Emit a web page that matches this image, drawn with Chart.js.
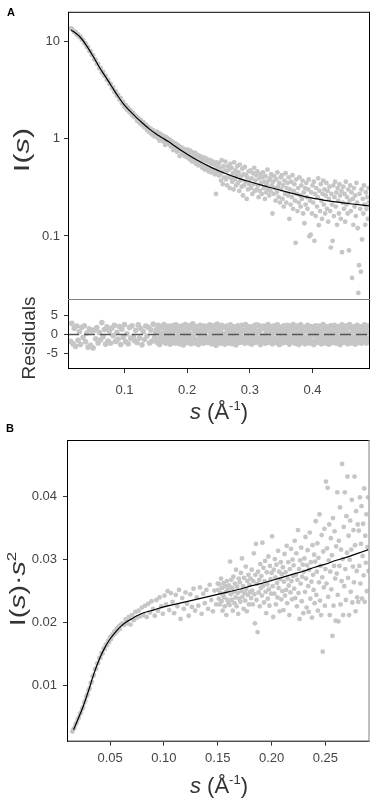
<!DOCTYPE html>
<html>
<head>
<meta charset="utf-8">
<script src="https://cdn.jsdelivr.net/npm/chart.js@4.4.1/dist/chart.umd.min.js"></script>
<style>
body { margin: 0; background: #fff; }
#wrap { position: relative; width: 373px; height: 801px; }
canvas { position: absolute; left: 0; top: 0; }
</style>
</head>
<body>
<div id="wrap">
<canvas id="cA" width="373" height="801" style="width:373px;height:801px"></canvas>
<canvas id="cR" width="373" height="801" style="width:373px;height:801px"></canvas>
<canvas id="cB" width="373" height="801" style="width:373px;height:801px"></canvas>
</div>
<script>
// ---- panel A : I(s) data (log scale) + fit, residuals share the same s ----
const sA = [
  0.014,0.016,0.018,0.020,0.022,0.024,0.026,0.028,0.030,0.032,0.034,0.036,0.038,0.040,0.042,0.044,0.046,0.048,0.050,0.052,
  0.054,0.056,0.058,0.060,0.062,0.064,0.066,0.068,0.070,0.072,0.074,0.076,0.078,0.080,0.082,0.084,0.086,0.088,0.090,0.092,
  0.094,0.096,0.098,0.100,0.102,0.104,0.106,0.108,0.110,0.112,0.114,0.116,0.118,0.120,0.122,0.124,0.126,0.128,0.130,0.132,
  0.134,0.136,0.138,0.140,0.142,0.144,0.146,0.148,0.150,
  0.151,0.152,0.153,0.154,0.155,0.156,0.157,0.158,0.159,0.160,
  0.161,0.162,0.163,0.164,0.165,0.166,0.167,0.168,0.169,0.170,
  0.171,0.172,0.173,0.174,0.175,0.176,0.177,0.178,0.179,0.180,
  0.181,0.182,0.183,0.184,0.185,0.186,0.187,0.188,0.189,0.190,
  0.191,0.192,0.193,0.194,0.195,0.196,0.197,0.198,0.199,0.200,
  0.201,0.202,0.203,0.204,0.205,0.206,0.207,0.208,0.209,0.210,
  0.211,0.212,0.213,0.214,0.215,0.216,0.217,0.218,0.219,0.220,
  0.221,0.222,0.223,0.224,0.225,0.226,0.227,0.228,0.229,0.230,
  0.231,0.232,0.233,0.234,0.235,0.236,0.237,0.238,0.239,0.240,
  0.241,0.242,0.243,0.244,0.245,0.246,0.247,0.248,0.249,0.250,
  0.251,0.252,0.253,0.254,0.255,0.256,0.257,0.258,0.259,0.260,
  0.261,0.262,0.263,0.264,0.265,0.266,0.267,0.268,0.269,0.270,
  0.271,0.272,0.273,0.274,0.275,0.276,0.277,0.278,0.279,0.280,
  0.281,0.282,0.283,0.284,0.285,0.286,0.287,0.288,0.289,0.290,
  0.291,0.292,0.293,0.294,0.295,0.296,0.297,0.298,0.299,0.300,
  0.301,0.302,0.303,0.304,0.305,0.306,0.307,0.308,0.309,0.310,
  0.311,0.312,0.313,0.314,0.315,0.316,0.317,0.318,0.319,0.320,
  0.321,0.322,0.323,0.324,0.325,0.326,0.327,0.328,0.329,0.330,
  0.331,0.332,0.333,0.334,0.335,0.336,0.337,0.338,0.339,0.340,
  0.341,0.342,0.343,0.344,0.345,0.346,0.347,0.348,0.349,0.350,
  0.351,0.352,0.353,0.354,0.355,0.356,0.357,0.358,0.359,0.360,
  0.361,0.362,0.363,0.364,0.365,0.366,0.367,0.368,0.369,0.370,
  0.371,0.372,0.373,0.374,0.375,0.376,0.377,0.378,0.379,0.380,
  0.381,0.382,0.383,0.384,0.385,0.386,0.387,0.388,0.389,0.390,
  0.391,0.392,0.393,0.394,0.395,0.396,0.397,0.398,0.399,0.400,
  0.401,0.402,0.403,0.404,0.405,0.406,0.407,0.408,0.409,0.410,
  0.411,0.412,0.413,0.414,0.415,0.416,0.417,0.418,0.419,0.420,
  0.421,0.422,0.423,0.424,0.425,0.426,0.427,0.428,0.429,0.430,
  0.431,0.432,0.433,0.434,0.435,0.436,0.437,0.438,0.439,0.440,
  0.441,0.442,0.443,0.444,0.445,0.446,0.447,0.448,0.449,0.450,
  0.451,0.452,0.453,0.454,0.455,0.456,0.457,0.458,0.459,0.460,
  0.461,0.462,0.463,0.464,0.465,0.466,0.467,0.468,0.469,0.470,
  0.471,0.472,0.473,0.474,0.475,0.476,0.477,0.478,0.479,0.480,
  0.481,0.482,0.483,0.484,0.485,0.486,0.487,0.488,0.489,0.490
];
const iA = [
  13.5,13.4,12.9,12.3,12.4,11.6,11.7,11.0,11.1,10.3,10.3,9.5,9.5,8.7,8.7,7.9,7.9,7.2,7.15,6.5,
  6.45,5.85,5.85,5.25,5.3,4.75,4.85,4.4,4.4,4.0,4.0,3.65,3.65,3.3,3.35,3.0,3.05,2.75,2.8,2.52,
  2.6,2.3,2.38,2.12,2.2,1.98,2.08,1.86,1.95,1.74,1.83,1.65,1.72,1.52,1.63,1.45,1.55,1.37,1.47,1.30,
  1.39,1.22,1.32,1.16,1.26,1.10,1.21,1.05,1.15,
  1.10,1.18,1.01,1.13,1.05,0.95,1.12,1.02,1.08,0.97,
  1.07,0.93,1.05,0.98,0.86,1.04,0.94,1.01,0.89,0.99,
  0.98,0.87,0.96,0.83,0.94,0.87,0.92,0.76,0.89,0.82,
  0.89,0.79,0.87,0.73,0.85,0.78,0.84,0.66,0.81,0.74,
  0.81,0.72,0.79,0.69,0.78,0.66,0.77,0.70,0.75,0.64,
  0.77,0.65,0.73,0.61,0.75,0.67,0.71,0.58,0.72,0.62,
  0.69,0.60,0.71,0.55,0.66,0.58,0.68,0.53,0.64,0.57,
  0.66,0.55,0.63,0.50,0.61,0.53,0.64,0.48,0.59,0.52,
  0.62,0.50,0.59,0.46,0.57,0.49,0.60,0.45,0.55,0.48,
  0.58,0.46,0.55,0.43,0.53,0.27,0.57,0.45,0.51,0.42,
  0.56,0.42,0.50,0.37,0.60,0.45,0.34,0.52,0.40,0.47,
  0.58,0.38,0.46,0.33,0.52,0.41,0.48,0.31,0.55,0.39,
  0.50,0.36,0.44,0.30,0.57,0.38,0.47,0.33,0.42,0.52,
  0.35,0.45,0.29,0.54,0.37,0.41,0.32,0.49,0.26,0.43,
  0.33,0.51,0.36,0.42,0.24,0.40,0.30,0.46,0.34,0.38,
  0.47,0.31,0.39,0.27,0.44,0.34,0.50,0.29,0.37,0.42,
  0.30,0.46,0.33,0.25,0.39,0.29,0.43,0.35,0.27,0.40,
  0.45,0.31,0.36,0.24,0.41,0.28,0.34,0.48,0.30,0.37,
  0.26,0.39,0.29,0.43,0.33,0.17,0.36,0.27,0.41,0.31,
  0.23,0.38,0.28,0.45,0.32,0.25,0.35,0.22,0.40,0.30,
  0.42,0.24,0.33,0.20,0.37,0.27,0.44,0.22,0.31,0.35,
  0.26,0.40,0.15,0.30,0.21,0.36,0.25,0.42,0.19,0.29,
  0.34,0.23,0.085,0.38,0.27,0.18,0.31,0.22,0.40,0.26,
  0.20,0.33,0.24,0.37,0.17,0.28,0.135,0.31,0.21,0.35,
  0.25,0.19,0.30,0.38,0.099,0.23,0.103,0.28,0.17,0.33,
  0.22,0.36,0.089,0.27,0.16,0.31,0.20,0.25,0.39,0.129,
  0.29,0.18,0.34,0.23,0.15,0.27,0.37,0.21,0.30,0.17,
  0.26,0.35,0.19,0.29,0.14,0.24,0.32,0.18,0.076,0.27,
  0.21,0.089,0.33,0.16,0.25,0.36,0.20,0.28,0.13,0.31,
  0.23,0.17,0.34,0.26,0.15,0.29,0.068,0.22,0.32,0.19,
  0.27,0.14,0.36,0.21,0.25,0.17,0.30,0.071,0.23,0.33,
  0.18,0.28,0.037,0.24,0.13,0.31,0.20,0.26,0.16,0.35,
  0.22,0.12,0.026,0.050,0.27,0.19,0.043,0.30,0.092,0.24,
  0.17,0.33,0.21,0.13,0.28,0.19,0.25,0.15,0.31,0.22
];
const resA = [
  -1.8,2.9,-2.4,1.6,-3.1,2.2,-1.5,0.7,-2.6,1.9,-0.8,
  2.3,-1.9,0.4,-3.3,1.5,-2.8,0.9,-3.5,1.2,-1.1,
  1.8,-2.2,0.5,-1.4,3.1,-0.6,1.3,-2.5,2.0,-1.7,
  0.9,-2.3,1.7,-0.3,2.4,-1.8,0.6,-1.2,2.1,-2.6,
  1.4,-0.7,2.6,-1.9,0.2,-2.4,1.8,-1.0,2.3,-0.5,
  -1.6,1.1,-2.1,2.5,-0.9,1.6,-2.7,0.8,-1.3,2.2,
  -0.4,1.9,-2.2,1.2,-1.7,2.7,-0.8,0.5,
  1.3,-2.0,0.6,2.4,-1.1,-2.6,1.7,-0.2,2.1,-1.5,
  0.4,-1.8,2.6,-0.7,1.2,-2.3,1.9,-1.2,0.1,2.2,
  -1.4,0.9,-2.5,1.6,-0.3,2.3,-1.9,0.7,-1.0,1.8,
  -2.2,2.5,-0.6,1.1,-1.7,0.3,2.0,-2.4,1.4,-0.9,
  2.2,-1.3,0.5,-2.7,1.8,-0.4,2.6,-1.6,0.8,-2.1,
  1.5,-0.8,2.3,-1.9,0.2,-2.4,1.7,-1.1,2.8,-0.5,
  -1.7,1.2,-2.2,0.6,2.1,-1.4,0.9,-2.6,1.6,-0.3,
  2.4,-1.9,0.7,-1.0,1.9,-2.3,0.4,2.2,-1.5,1.0,
  -0.6,2.0,-2.1,1.3,-0.9,2.5,-1.6,0.3,-2.4,1.7,
  -1.2,2.3,-0.5,1.1,-2.0,-2.8,0.8,2.7,-1.4,2.1,
  -0.7,1.6,-2.3,0.5,2.4,-1.1,1.9,-1.8,0.2,-2.5,
  1.8,-0.4,2.2,-1.6,0.9,-2.2,1.4,-0.8,2.5,-1.3,
  0.6,-2.4,1.7,-0.2,2.0,-1.5,0.8,-2.7,1.2,-0.9,
  2.3,-1.2,0.4,-2.0,1.6,-0.6,2.4,-1.8,0.7,-1.4,
  1.1,-2.3,2.6,-0.5,1.4,-1.7,0.2,2.1,-2.2,0.9,
  -1.0,1.8,-2.5,0.7,-0.3,2.2,-1.4,1.3,-2.0,2.5,
  -0.8,0.5,-1.9,2.4,-1.2,1.0,-2.6,1.7,-0.4,2.0,
  -1.6,2.2,-0.7,1.4,-2.3,0.3,1.9,-1.1,2.6,-2.0,
  0.8,-1.5,2.1,-0.2,1.3,-2.4,0.6,-1.7,2.3,-0.9,
  1.7,-2.1,0.4,2.5,-1.3,1.0,-2.6,0.7,-0.5,1.9,
  -2.2,1.2,-0.9,2.3,-1.6,0.5,-2.0,1.8,-0.3,2.4,
  -1.1,0.9,-2.5,1.5,-0.6,2.1,-1.8,0.2,2.6,-1.4,
  1.0,-2.3,1.7,-0.8,2.2,-1.2,0.6,-2.6,1.4,-0.4,
  2.5,-1.7,0.3,-2.1,1.9,-0.7,1.2,-2.4,0.8,2.0,
  -1.3,2.4,-0.5,1.6,-2.2,0.9,-1.0,2.1,-1.9,0.4,
  1.8,-2.6,1.1,-0.2,2.3,-1.5,0.7,-2.0,1.5,-0.8,
  2.2,-1.1,0.5,-2.4,1.3,-0.6,2.6,-1.8,0.1,-2.2,
  1.6,-0.9,2.0,-1.6,0.8,-2.5,1.4,-0.3,2.3,-1.2,
  0.6,-2.1,1.9,-0.7,2.4,-1.4,0.3,-2.3,1.1,-0.5,
  2.1,-1.8,0.9,-2.6,1.5,-0.4,2.5,-1.2,0.7,-2.0,
  1.3,-0.6,2.2,-1.9,0.4,-2.4,1.7,-1.0,2.6,-1.5,
  0.2,-2.2,1.6,-0.8,2.0,-1.3,0.9,-2.5,1.2,-0.3,
  2.4,-1.6,0.6,-2.1,1.8,-0.5,1.1,-2.3,2.1,-1.1,
  0.8,-1.9,2.5,-0.7,1.4,-2.2,0.5,-1.4,2.2,-0.9
];
const sFitA = [0.015,0.02,0.03,0.04,0.05,0.06,0.07,0.08,0.09,0.10,0.11,0.12,0.13,0.14,0.15,0.16,0.17,0.18,
  0.19,0.20,0.22,0.24,0.26,0.28,0.30,0.32,0.34,0.36,0.38,0.40,0.42,0.44,0.46,0.48,0.49];
const iFitA = [13.0,12.4,10.9,8.9,7.0,5.4,4.3,3.4,2.7,2.2,1.88,1.62,1.42,1.25,1.12,1.02,0.93,0.84,
  0.76,0.69,0.58,0.50,0.44,0.395,0.36,0.33,0.305,0.282,0.261,0.244,0.232,0.222,0.214,0.207,0.204];
const ticksAY = [0.1, 1, 10];
const ticksRY = [-5, 0, 5];
const ticksAX = [0.1, 0.2, 0.3, 0.4];

// ---- panel B : Kratky plot I(s)*s^2 ----
const sB = [
  0.015,0.016,0.017,0.018,0.019,0.020,0.021,0.022,0.023,0.024,0.025,0.026,0.027,0.028,0.029,0.030,
  0.031,0.032,0.033,0.034,0.035,0.036,0.037,0.038,0.039,0.040,0.041,0.042,0.043,0.044,0.045,
  0.046,0.047,0.048,0.049,0.050,0.051,0.052,0.053,0.054,0.055,0.056,0.057,0.058,0.059,0.060,
  0.0615,0.0630,0.0645,0.0660,0.0675,0.0690,0.0705,0.0720,0.0735,0.0750,
  0.0765,0.0780,0.0795,0.0810,0.0825,0.0840,0.0855,0.0870,0.0885,0.0900,
  0.0915,0.0930,0.0945,0.0960,0.0975,0.0990,0.1005,0.1020,0.1035,0.1050,
  0.1065,0.1080,0.1095,0.1110,0.1125,0.1140,0.1155,0.1170,0.1185,0.1200,
  0.1215,0.1230,0.1245,0.1260,0.1275,0.1290,0.1305,0.1320,0.1335,0.1350,
  0.1365,0.1380,0.1395,0.1410,0.1425,0.1440,0.1455,0.1470,0.1485,0.1500,
  0.1505,0.151,0.1515,0.152,0.1525,0.153,0.1535,0.154,0.1545,0.155,0.1555,0.156,0.1565,0.157,0.1575,0.158,0.1585,0.159,0.1595,0.160,
  0.1605,0.161,0.1615,0.162,0.1625,0.163,0.1635,0.164,0.1645,0.165,0.1655,0.166,0.1665,0.167,0.1675,0.168,0.1685,0.169,0.1695,0.170,
  0.1705,0.171,0.1715,0.172,0.1725,0.173,0.1735,0.174,0.1745,0.175,0.1755,0.176,0.1765,0.177,0.1775,0.178,0.1785,0.179,0.1795,0.180,
  0.1805,0.181,0.1815,0.182,0.1825,0.183,0.1835,0.184,0.1845,0.185,0.1855,0.186,0.1865,0.187,0.1875,0.188,0.1885,0.189,0.1895,0.190,
  0.1905,0.191,0.1915,0.192,0.1925,0.193,0.1935,0.194,0.1945,0.195,0.1955,0.196,0.1965,0.197,0.1975,0.198,0.1985,0.199,0.1995,0.200,
  0.2005,0.201,0.2015,0.202,0.2025,0.203,0.2035,0.204,0.2045,0.205,0.2055,0.206,0.2065,0.207,0.2075,0.208,0.2085,0.209,0.2095,0.210,
  0.2105,0.211,0.2115,0.212,0.2125,0.213,0.2135,0.214,0.2145,0.215,0.2155,0.216,0.2165,0.217,0.2175,0.218,0.2185,0.219,0.2195,0.220,
  0.2205,0.221,0.2215,0.222,0.2225,0.223,0.2235,0.224,0.2245,0.225,0.2255,0.226,0.2265,0.227,0.2275,0.228,0.2285,0.229,0.2295,0.230,
  0.2305,0.231,0.2315,0.232,0.2325,0.233,0.2335,0.234,0.2345,0.235,0.2355,0.236,0.2365,0.237,0.2375,0.238,0.2385,0.239,0.2395,0.240,
  0.2405,0.241,0.2415,0.242,0.2425,0.243,0.2435,0.244,0.2445,0.245,0.2455,0.246,0.2465,0.247,0.2475,0.248,0.2485,0.249,0.2495,0.250,
  0.2505,0.251,0.2515,0.252,0.2525,0.253,0.2535,0.254,0.2545,0.255,0.2555,0.256,0.2565,0.257,0.2575,0.258,0.2585,0.259,0.2595,0.260,
  0.2605,0.261,0.2615,0.262,0.2625,0.263,0.2635,0.264,0.2645,0.265,0.2655,0.266,0.2665,0.267,0.2675,0.268,0.2685,0.269,0.2695,0.270,
  0.2705,0.271,0.2715,0.272,0.2725,0.273,0.2735,0.274,0.2745,0.275,0.2755,0.276,0.2765,0.277,0.2775,0.278,0.2785,0.279,0.2795,0.280,
  0.2805,0.281,0.2815,0.282,0.2825,0.283,0.2835,0.284,0.2845,0.285,0.2855,0.286,0.2865,0.287,0.2875,0.288,0.2885,0.289,0.2895,0.290
];
const kB = [
  0.0027,0.0031,0.0033,0.0039,0.0041,0.0047,0.0049,0.0055,0.0057,0.0063,0.0066,0.0073,0.0076,0.0083,0.0086,0.0093,
  0.0096,0.0104,0.0106,0.0115,0.0117,0.0126,0.0127,0.0135,0.0136,0.0144,0.0144,0.0152,0.0151,0.0159,0.0158,
  0.0165,0.0164,0.0171,0.0169,0.0177,0.0174,0.0181,0.0180,0.0186,0.0183,0.0190,0.0187,0.0194,0.0190,0.0197,
  0.0199,0.0196,0.0205,0.0199,0.0209,0.0197,0.0212,0.0204,0.0217,0.0208,
  0.0219,0.0210,0.0224,0.0212,0.0227,0.0209,0.0230,0.0216,0.0234,0.0222,
  0.0211,0.0236,0.0219,0.0240,0.0226,0.0214,0.0243,0.0229,0.0250,0.0220,
  0.0247,0.0233,0.0215,0.0244,0.0226,0.0252,0.0206,0.0239,0.0222,0.0248,
  0.0230,0.0211,0.0245,0.0225,0.0254,0.0219,0.0240,0.0227,0.0256,0.0214,
  0.0246,0.0231,0.0252,0.0222,0.0260,0.0236,0.0218,0.0251,0.0229,0.0262,
  0.0252,0.0238,0.0261,0.0229,0.0247,0.0270,0.0234,0.0255,0.0219,0.0244,0.0263,0.0240,0.0226,0.0258,0.0249,0.0212,0.0266,0.0236,0.0253,0.0231,
  0.0259,0.0228,0.0297,0.0245,0.0268,0.0236,0.0255,0.0219,0.0273,0.0249,0.0231,0.0262,0.0240,0.0284,0.0226,0.0257,0.0247,0.0214,0.0270,0.0238,
  0.0264,0.0233,0.0279,0.0250,0.0302,0.0241,0.0258,0.0222,0.0271,0.0247,0.0235,0.0289,0.0253,0.0218,0.0266,0.0244,0.0276,0.0229,0.0260,0.0248,
  0.0270,0.0239,0.0284,0.0251,0.0229,0.0266,0.0310,0.0245,0.0199,0.0276,0.0325,0.0236,0.0262,0.0185,0.0281,0.0248,0.0268,0.0226,0.0293,0.0255,
  0.0274,0.0243,0.0327,0.0258,0.0287,0.0232,0.0266,0.0298,0.0249,0.0215,0.0280,0.0261,0.0238,0.0305,0.0253,0.0227,0.0290,0.0269,0.0246,0.0279,
  0.0337,0.0258,0.0209,0.0284,0.0246,0.0301,0.0272,0.0229,0.0292,0.0263,0.0240,0.0314,0.0255,0.0281,0.0218,0.0269,0.0296,0.0237,0.0277,0.0250,
  0.0288,0.0220,0.0265,0.0309,0.0243,0.0280,0.0252,0.0322,0.0231,0.0270,0.0296,0.0259,0.0212,0.0285,0.0248,0.0317,0.0266,0.0237,0.0300,0.0274,
  0.0291,0.0254,0.0330,0.0239,0.0276,0.0310,0.0226,0.0268,0.0347,0.0247,0.0285,0.0206,0.0299,0.0262,0.0319,0.0234,0.0273,0.0292,0.0215,0.0281,
  0.0302,0.0249,0.0336,0.0270,0.0224,0.0291,0.0315,0.0258,0.0217,0.0284,0.0343,0.0238,0.0296,0.0265,0.0208,0.0323,0.0276,0.0252,0.0308,0.0231,
  0.0297,0.0361,0.0244,0.0281,0.0326,0.0219,0.0303,0.0264,0.0372,0.0235,0.0290,0.0212,0.0339,0.0272,0.0154,0.0313,0.0256,0.0349,0.0227,0.0285,
  0.0424,0.0262,0.0318,0.0414,0.0241,0.0299,0.0356,0.0212,0.0281,0.0334,0.0253,0.0307,0.0179,0.0366,0.0227,0.0290,0.0345,0.0270,0.0203,0.0321,
  0.0278,0.0407,0.0244,0.0202,0.0330,0.0290,0.0383,0.0229,0.0316,0.0266,0.0452,0.0301,0.0212,0.0352,0.0258,0.0407,0.0285,0.0236,0.0369,0.0311,
  0.0432,0.0271,0.0338,0.0212,0.0300,0.0362,0.0249,0.0316,0.0395,0.0232,0.0289,0.0347,0.0264,0.0432,0.0323,0.0218,0.0377,0.0282,0.0240,0.0356,
  0.0233,0.0346,0.0290,0.0399,0.0262,0.0325,0.0385,0.0238,0.0306,0.0357,0.0275,0.0413,0.0233,0.0338,0.0295,0.0372,0.0250,0.0320,0.0399,0.0282
];
const sFitB = [0.016,0.02,0.025,0.03,0.035,0.04,0.045,0.05,0.055,0.06,0.065,0.07,0.075,0.08,0.09,0.10,0.11,
  0.12,0.13,0.14,0.15,0.16,0.17,0.18,0.19,0.20,0.21,0.22,0.23,0.24,0.25,0.26,0.27,0.28,0.29];
const kFitB = [0.0030,0.0046,0.0067,0.0092,0.0119,0.0142,0.0160,0.0174,0.0185,0.0194,0.0201,0.0206,0.0211,0.0215,
  0.0220,0.0225,0.0229,0.0233,0.0237,0.0241,0.0245,0.0249,0.0253,0.0258,0.0262,0.0267,0.0272,0.0277,0.0282,
  0.0288,0.0293,0.0299,0.0304,0.0310,0.0316];
const ticksBY = [0.01, 0.02, 0.03, 0.04];
const ticksBX = [0.05, 0.10, 0.15, 0.20, 0.25];

const DOT = 'rgb(198,198,198)';
const FONT = '"Liberation Sans", Arial, sans-serif';
Chart.defaults.font.family = FONT;
Chart.defaults.font.size = 13;
Chart.defaults.color = '#444';
Chart.defaults.animation = false;

function pts(xs, ys) {
  return xs.map((x, i) => ({ x: x, y: ys[i] }));
}
function fixTicks(values) {
  return axis => { axis.ticks = values.map(v => ({ value: v })); };
}

// box lines round the plot area
const boxLines = {
  id: 'boxLines',
  afterDatasetsDraw(chart, args, opts) {
    const ctx = chart.ctx, a = chart.chartArea;
    ctx.save();
    ctx.lineWidth = 1;
    opts.sides.forEach(([side, color]) => {
      ctx.strokeStyle = color;
      ctx.beginPath();
      if (side === 'top') { ctx.moveTo(a.left, a.top + 0.5); ctx.lineTo(a.right + 1, a.top + 0.5); }
      if (side === 'bottom') { ctx.moveTo(a.left, a.bottom - 0.5); ctx.lineTo(a.right + 1, a.bottom - 0.5); }
      if (side === 'left') { ctx.moveTo(a.left + 0.5, a.top); ctx.lineTo(a.left + 0.5, a.bottom); }
      if (side === 'right') { ctx.moveTo(a.right + 0.5, a.top); ctx.lineTo(a.right + 0.5, a.bottom); }
      ctx.stroke();
    });
    ctx.restore();
  }
};

// axis titles with italic / superscript parts (sx stretches along the text)
const richText = {
  id: 'richText',
  afterDraw(chart, args, opts) {
    const ctx = chart.ctx;
    opts.items.forEach(it => {
      ctx.save();
      ctx.translate(it.x, it.y);
      ctx.rotate(it.angle || 0);
      ctx.scale(it.sx || 1, 1);
      ctx.fillStyle = it.color || '#333';
      ctx.textBaseline = 'alphabetic';
      let w = 0;
      it.parts.forEach(p => { ctx.font = p[1]; w += ctx.measureText(p[0]).width; });
      let cx = it.align === 'left' ? 0 : -w / 2;
      it.parts.forEach(p => {
        ctx.font = p[1];
        ctx.fillText(p[0], cx, p[2] || 0);
        cx += ctx.measureText(p[0]).width;
      });
      ctx.restore();
    });
  }
};

const T = '22px ' + FONT, TI = 'italic 22px ' + FONT, SUP = '13px ' + FONT;

function tickGrid() {
  return { drawOnChartArea: false, drawTicks: true, tickLength: 4, tickColor: '#333' };
}

// ---- panel A ----
new Chart(document.getElementById('cA'), {
  type: 'scatter',
  data: {
    datasets: [
      { type: 'line', data: pts(sFitA, iFitA), borderColor: '#000', borderWidth: 1.2,
        pointRadius: 0, cubicInterpolationMode: 'monotone', fill: false, clip: 0 },
      { data: pts(sA, iA), pointRadius: 2.4, pointBackgroundColor: DOT, pointBorderWidth: 0, clip: 0 }
    ]
  },
  options: {
    responsive: false,
    devicePixelRatio: 1,
    layout: { padding: { left: 0, top: 2, right: 3, bottom: 501 } },
    plugins: {
      legend: { display: false }, tooltip: { enabled: false },
      boxLines: { sides: [['top', '#000'], ['left', '#000'], ['right', '#000'], ['bottom', '#808080']] },
      richText: { items: [
        { parts: [['A', 'bold 11px ' + FONT]], x: 7, y: 16, align: 'left', color: '#000' },
        { parts: [['I(', T], ['s', TI], [')', T]], x: 29, y: 150, angle: -Math.PI / 2, sx: 1.4 }
      ] }
    },
    scales: {
      x: { type: 'linear', min: 0.01, max: 0.49, display: false },
      y: {
        type: 'logarithmic', min: 0.022, max: 20,
        afterBuildTicks: fixTicks(ticksAY),
        afterFit: axis => { axis.width = 68; },
        ticks: { padding: 4, callback: v => String(v) },
        grid: tickGrid(),
        border: { display: false }
      }
    }
  },
  plugins: [boxLines, richText]
});

// ---- residuals ----
new Chart(document.getElementById('cR'), {
  type: 'scatter',
  data: {
    datasets: [
      { type: 'line', data: [{ x: 0.01, y: 0 }, { x: 0.49, y: 0 }], borderColor: '#555', borderWidth: 1.5,
        borderDash: [11, 5], pointRadius: 0, fill: false, clip: 0 },
      { data: pts(sA, resA), pointRadius: 2.8, pointBackgroundColor: DOT, pointBorderWidth: 0, clip: 0 }
    ]
  },
  options: {
    responsive: false,
    devicePixelRatio: 1,
    layout: { padding: { left: 0, top: 300, right: 3, bottom: 371 } },
    plugins: {
      legend: { display: false }, tooltip: { enabled: false },
      boxLines: { sides: [['left', '#000'], ['right', '#000'], ['bottom', '#000']] },
      richText: { items: [
        { parts: [['Residuals', '18px ' + FONT]], x: 35, y: 338, angle: -Math.PI / 2, sx: 1.05 },
        { parts: [['s', TI], [' (\u00C5', T], ['-1', SUP, -9], [')', T]], x: 219, y: 419 }
      ] }
    },
    scales: {
      x: {
        type: 'linear', min: 0.01, max: 0.49,
        afterBuildTicks: fixTicks(ticksAX),
        afterFit: axis => { axis.height = 61; },
        ticks: { padding: 10, maxRotation: 0, callback: v => v.toFixed(1) },
        grid: tickGrid(),
        border: { display: false }
      },
      y: {
        type: 'linear', min: -9, max: 9,
        afterBuildTicks: fixTicks(ticksRY),
        afterFit: axis => { axis.width = 68; },
        ticks: { padding: 6, callback: v => String(v) },
        grid: tickGrid(),
        border: { display: false }
      }
    }
  },
  plugins: [boxLines, richText]
});

// ---- panel B ----
new Chart(document.getElementById('cB'), {
  type: 'scatter',
  data: {
    datasets: [
      { type: 'line', data: pts(sFitB, kFitB), borderColor: '#000', borderWidth: 1.2,
        pointRadius: 0, cubicInterpolationMode: 'monotone', fill: false, clip: 0 },
      { data: pts(sB, kB), pointRadius: 2.4, pointBackgroundColor: DOT, pointBorderWidth: 0, clip: 0 }
    ]
  },
  options: {
    responsive: false,
    devicePixelRatio: 1,
    layout: { padding: { left: 0, top: 440, right: 4.5, bottom: 0 } },
    plugins: {
      legend: { display: false }, tooltip: { enabled: false },
      boxLines: { sides: [['top', '#000'], ['left', '#000'], ['bottom', '#000'], ['right', '#808080']] },
      richText: { items: [
        { parts: [['B', 'bold 11px ' + FONT]], x: 6, y: 432, align: 'left', color: '#000' },
        { parts: [['I(', T], ['s', TI], [')\u00B7', T], ['s', TI], ['2', SUP, -9]], x: 25, y: 589, angle: -Math.PI / 2, sx: 1.3 },
        { parts: [['s', TI], [' (\u00C5', T], ['-1', SUP, -9], [')', T]], x: 219, y: 793 }
      ] }
    },
    scales: {
      x: {
        type: 'linear', min: 0.01, max: 0.29,
        afterBuildTicks: fixTicks(ticksBX),
        afterFit: axis => { axis.height = 59.3; },
        ticks: { padding: 5, maxRotation: 0, callback: v => v.toFixed(2) },
        grid: tickGrid(),
        border: { display: false }
      },
      y: {
        type: 'linear', min: 0.0011, max: 0.049,
        afterBuildTicks: fixTicks(ticksBY),
        afterFit: axis => { axis.width = 67; },
        ticks: { padding: 6, callback: v => v.toFixed(2) },
        grid: tickGrid(),
        border: { display: false }
      }
    }
  },
  plugins: [boxLines, richText]
});
</script>
</body>
</html>
